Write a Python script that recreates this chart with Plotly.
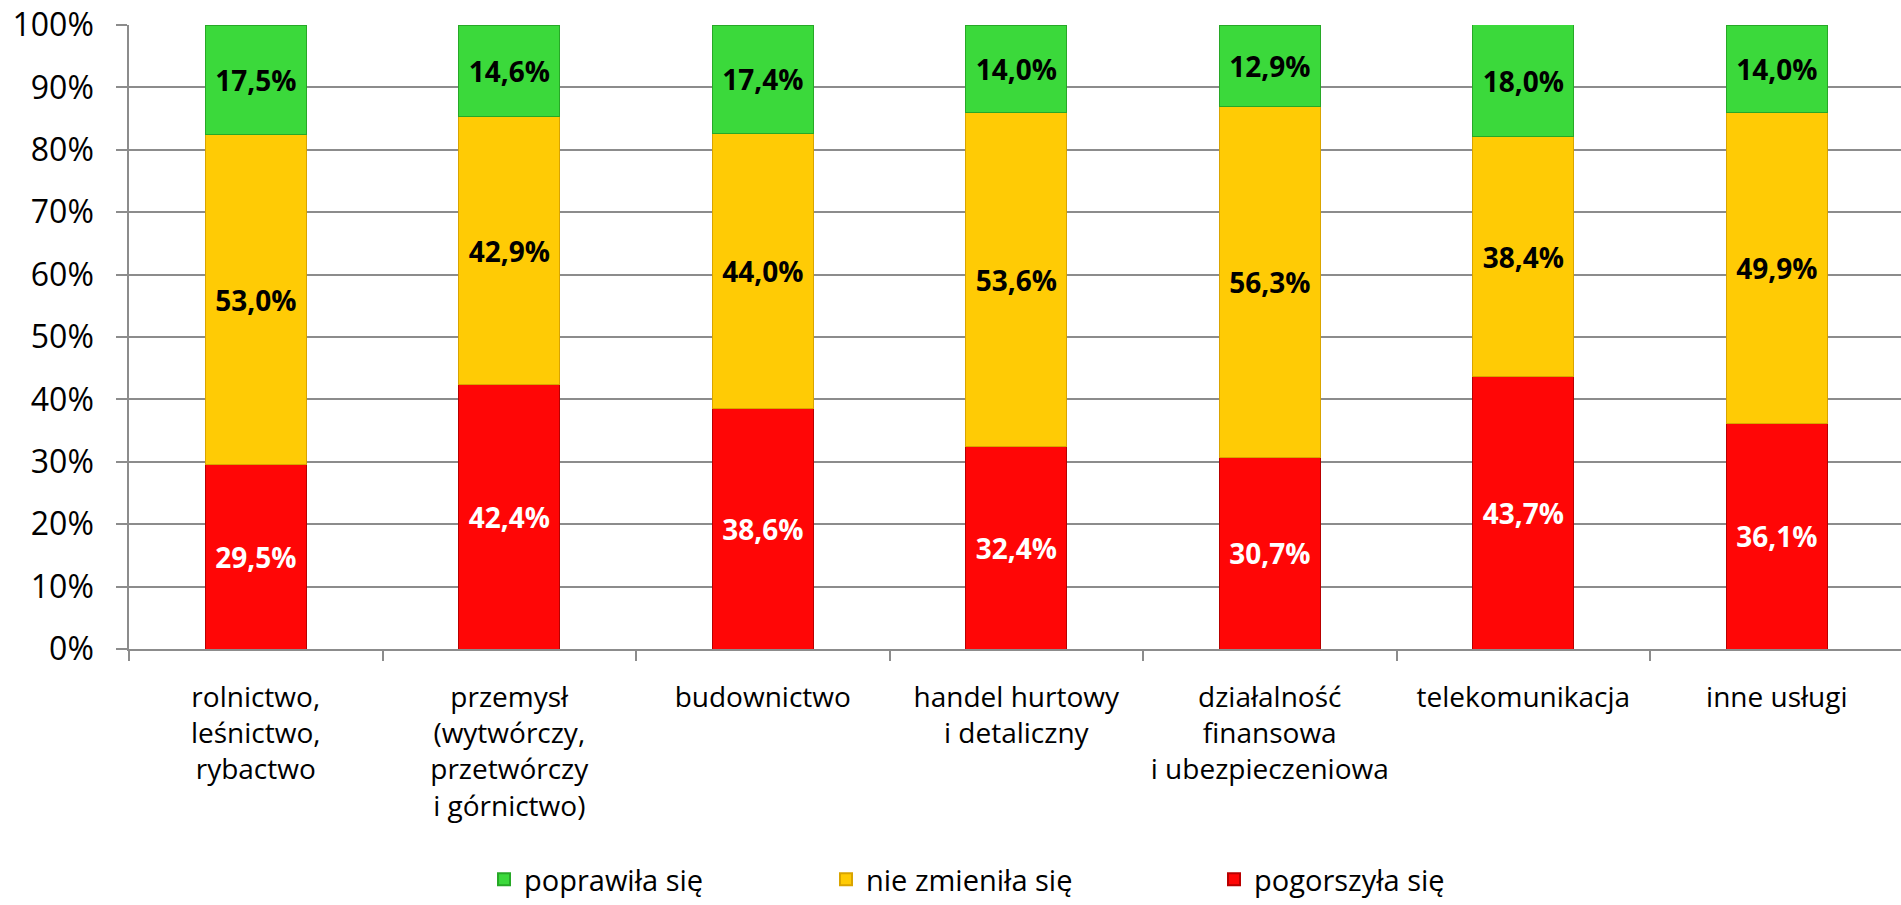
import plotly.graph_objects as go

categories = [
    "rolnictwo,<br>leśnictwo,<br>rybactwo",
    "przemysł<br>(wytwórczy,<br>przetwórczy<br>i górnictwo)",
    "budownictwo",
    "handel hurtowy<br>i detaliczny",
    "działalność<br>finansowa<br>i ubezpieczeniowa",
    "telekomunikacja",
    "inne usługi",
]

pogorszyla = [29.5, 42.4, 38.6, 32.4, 30.7, 43.7, 36.1]
nie_zmienila = [53.0, 42.9, 44.0, 53.6, 56.3, 38.4, 49.9]
poprawila = [17.5, 14.6, 17.4, 14.0, 12.9, 18.0, 14.0]

y_ticks = [0, 10, 20, 30, 40, 50, 60, 70, 80, 90, 100]
y_tick_labels = ["0%", "10%", "20%", "30%", "40%", "50%",
                 "60%", "70%", "80%", "90%", "100%"]

FONT = "Open Sans"

fig = go.Figure()

series = [
    ("pogorszyła się", pogorszyla, "#ff0606", "#b80000", "white", "legend3"),
    ("nie zmieniła się", nie_zmienila, "#ffcb05", "#d9a400", "black", "legend2"),
    ("poprawiła się", poprawila, "#3bd93b", "#27a827", "black", "legend"),
]

for name, vals, fill, edge, txt, leg in series:
    fig.add_trace(go.Bar(
        name=name,
        x=categories,
        y=vals,
        marker=dict(color=fill, line=dict(color=edge, width=1)),
        texttemplate="%{y:.1f}%",
        textposition="inside",
        insidetextanchor="middle",
        textangle=0,
        constraintext="none",
        textfont=dict(family=FONT, size=28, color=txt, weight="bold"),
        legend=leg,
    ))

legend_common = dict(
    orientation="h",
    yanchor="bottom",
    xanchor="left",
    yref="paper",
    bgcolor="rgba(0,0,0,0)",
    font=dict(family=FONT, size=29, color="black"),
    itemsizing="constant",
    tracegroupgap=0,
)

legend_y = -0.41

fig.update_layout(
    width=1901,
    height=905,
    barmode="stack",
    bargap=0.6,
    separators=", ",
    plot_bgcolor="white",
    paper_bgcolor="white",
    margin=dict(l=129, r=0, t=25, b=256, autoexpand=False),
    font=dict(family=FONT, color="black"),
    legend=dict(x=(484 - 129) / 1772, y=legend_y, **legend_common),
    legend2=dict(x=(826 - 129) / 1772, y=legend_y, **legend_common),
    legend3=dict(x=(1214 - 129) / 1772, y=legend_y, **legend_common),
    showlegend=True,
)

fig.update_xaxes(
    type="category",
    range=[-0.5, 6.49],
    automargin=False,
    showline=True,
    linecolor="#8c8c8c",
    linewidth=2,
    ticks="outside",
    tickson="boundaries",
    ticklen=10,
    tickcolor="#8c8c8c",
    tickwidth=1.5,
    tickangle=0,
    tickfont=dict(family=FONT, size=28, color="black"),
    ticklabelstandoff=22,
    showgrid=False,
)

fig.update_yaxes(
    range=[0, 100],
    automargin=False,
    tickmode="array",
    tickvals=y_ticks,
    ticktext=y_tick_labels,
    showline=True,
    linecolor="#8c8c8c",
    linewidth=1.5,
    ticks="outside",
    ticklen=11,
    tickcolor="#8c8c8c",
    tickwidth=1.5,
    showgrid=True,
    gridcolor="#8c8c8c",
    gridwidth=1.5,
    tickfont=dict(family=FONT, size=32, color="black"),
    ticklabelstandoff=16,
    zeroline=False,
)

fig.write_html("out.html")
